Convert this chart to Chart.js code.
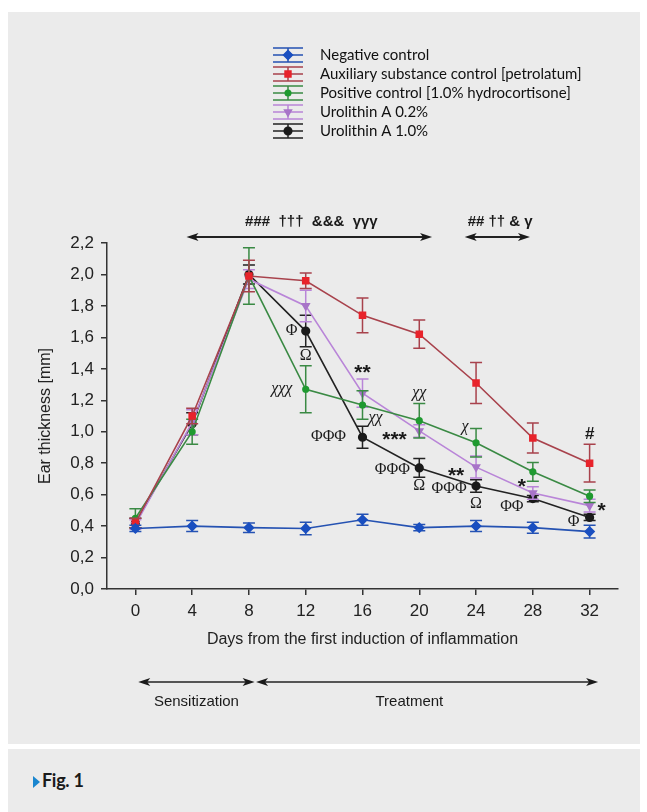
<!DOCTYPE html>
<html>
<head>
<meta charset="utf-8">
<script src="https://cdn.jsdelivr.net/npm/chart.js@4.4.0/dist/chart.umd.min.js"></script>
<style>
html, body { margin: 0; padding: 0; background: #fff; }
body { width: 647px; height: 812px; position: relative; overflow: hidden; }
#panel { position: absolute; left: 8px; top: 12px; width: 632px; height: 732px; background: #ebebeb; }
#caption { position: absolute; left: 8px; top: 749px; width: 632px; height: 63px; background: #ebebeb; }
#caption .tri { position: absolute; left: 25px; top: 27px; width: 0; height: 0;
  border-top: 6px solid transparent; border-bottom: 6px solid transparent; border-left: 7px solid #1a86cf; }
#caption .lab { position: absolute; left: 34px; top: 20px; font: bold 18px Lato, sans-serif; color: #1a1a1a; letter-spacing: -0.3px; }
#c { position: absolute; left: 0; top: 0; }
</style>
</head>
<body>
<div id="panel"></div>
<div id="caption"><span class="tri"></span><span class="lab">Fig. 1</span></div>
<canvas id="c" width="647" height="812"></canvas>
<script>
// days of measurement
var days = [0, 4, 8, 12, 16, 20, 24, 28, 32];
var xTicks = [0, 4, 8, 12, 16, 20, 24, 28, 32];
var yTicks = [0, 0.2, 0.4, 0.6, 0.8, 1.0, 1.2, 1.4, 1.6, 1.8, 2.0, 2.2];

var seriesNames = [
    'Negative control',
    'Auxiliary substance control [petrolatum]',
    'Positive control [1.0% hydrocortisone]',
    'Urolithin A 0.2%',
    'Urolithin A 1.0%'
];

// ear thickness [mm], mean and error
var negMean  = [0.385, 0.40, 0.39, 0.385, 0.44, 0.39, 0.40, 0.39, 0.365];
var negErr   = [0.02, 0.035, 0.03, 0.04, 0.035, 0.02, 0.035, 0.035, 0.04];
var petMean  = [0.42, 1.10, 1.99, 1.96, 1.74, 1.62, 1.31, 0.96, 0.80];
var petErr   = [0.03, 0.05, 0.10, 0.05, 0.11, 0.09, 0.13, 0.095, 0.12];
var hcMean   = [0.45, 1.00, 1.99, 1.27, 1.17, 1.07, 0.93, 0.745, 0.59];
var hcErr    = [0.06, 0.08, 0.18, 0.15, 0.09, 0.11, 0.09, 0.06, 0.04];
var ua02Mean = [0.41, 1.06, 1.97, 1.80, 1.245, 1.005, 0.775, 0.61, 0.53];
var ua02Err  = [0.03, 0.08, 0.06, 0.10, 0.09, 0.04, 0.07, 0.04, 0.04];
var ua10Mean = [0.42, 1.05, 2.00, 1.64, 0.965, 0.77, 0.655, 0.575, 0.455];
var ua10Err  = [0.03, 0.07, 0.06, 0.10, 0.07, 0.06, 0.04, 0.02, 0.02];

var means = [negMean, petMean, hcMean, ua02Mean, ua10Mean];
var errs = [negErr, petErr, hcErr, ua02Err, ua10Err];

var lineColors = ['#2552b2', '#a8424c', '#3a8a44', '#b985d8', '#222222'];
var markColors = ['#1a4fc0', '#e8232b', '#1f9a30', '#a874c8', '#1a1a1a'];
var markStyles = ['rectRot', 'rect', 'circle', 'triangle', 'circle'];
var markSizes = [4.5, 4.2, 2.8, 4, 3.8];
var markRot = [0, 0, 0, 180, 0];

// significance marks: series index, point index, text, offset
var sigLabels = [
    { s: 4, i: 3, t: 'Φ', dx: -14, dy: 0 },
    { s: 4, i: 3, t: 'Ω', dx: 0, dy: 25 },
    { s: 2, i: 3, t: 'χχχ', dx: -24, dy: 0, it: true },
    { s: 3, i: 4, t: '**', dx: 0, dy: -26, star: true },
    { s: 2, i: 4, t: 'χχ', dx: 13, dy: 13, it: true },
    { s: 4, i: 4, t: 'ΦΦΦ', dx: -34, dy: 0 },
    { s: 4, i: 4, t: '***', dx: 32, dy: -3, star: true },
    { s: 2, i: 5, t: 'χχ', dx: 0, dy: -28, it: true },
    { s: 2, i: 6, t: 'χ', dx: -11, dy: -16, it: true },
    { s: 4, i: 5, t: 'ΦΦΦ', dx: -27, dy: 2 },
    { s: 4, i: 5, t: 'Ω', dx: 0, dy: 18 },
    { s: 3, i: 6, t: '**', dx: -20, dy: 3, star: true },
    { s: 4, i: 6, t: 'ΦΦΦ', dx: -27, dy: 3 },
    { s: 4, i: 6, t: 'Ω', dx: 0, dy: 18 },
    { s: 3, i: 7, t: '*', dx: -11, dy: -12, star: true },
    { s: 4, i: 7, t: 'ΦΦ', dx: -21, dy: 8 },
    { s: 1, i: 8, t: '#', dx: 0, dy: -29 },
    { s: 3, i: 8, t: '*', dx: 12, dy: 0, star: true },
    { s: 4, i: 8, t: 'Φ', dx: -16, dy: 4 }
];

var datasets = [];
for (var k = 0; k < means.length; k++) {
    datasets.push({
        label: seriesNames[k],
        data: days.map(function (d, i) { return { x: d, y: means[k][i] }; }),
        borderColor: lineColors[k],
        borderWidth: 1.6,
        backgroundColor: markColors[k],
        pointBackgroundColor: markColors[k],
        pointBorderColor: markColors[k],
        pointStyle: markStyles[k],
        pointRadius: markSizes[k],
        pointRotation: markRot[k],
        tension: 0,
        fill: false
    });
}

function arrow(c, x1, x2, y) {
    c.beginPath();
    c.moveTo(x1 + 6, y); c.lineTo(x2 - 6, y);
    c.stroke();
    c.beginPath();
    c.moveTo(x1, y); c.lineTo(x1 + 12, y - 4); c.lineTo(x1 + 9, y); c.lineTo(x1 + 12, y + 4);
    c.closePath(); c.fill();
    c.beginPath();
    c.moveTo(x2, y); c.lineTo(x2 - 12, y - 4); c.lineTo(x2 - 9, y); c.lineTo(x2 - 12, y + 4);
    c.closePath(); c.fill();
}

var errorBars = {
    id: 'errorBars',
    beforeDatasetDraw: function (chart, args) {
        var k = args.index;
        var ys = chart.scales.y;
        var c = chart.ctx;
        c.save();
        c.strokeStyle = lineColors[k];
        c.lineWidth = 1.5;
        args.meta.data.forEach(function (pt, i) {
            var top = ys.getPixelForValue(means[k][i] + errs[k][i]);
            var bot = ys.getPixelForValue(means[k][i] - errs[k][i]);
            c.beginPath();
            c.moveTo(pt.x, top); c.lineTo(pt.x, bot);
            c.moveTo(pt.x - 6, top); c.lineTo(pt.x + 6, top);
            c.moveTo(pt.x - 6, bot); c.lineTo(pt.x + 6, bot);
            c.stroke();
        });
        c.restore();
    }
};

var extras = {
    id: 'extras',
    afterDraw: function (chart) {
        var c = chart.ctx;
        var xs = chart.scales.x;
        var area = chart.chartArea;
        c.save();

        // significance marks
        c.fillStyle = '#1a1a1a';
        c.textAlign = 'center';
        c.textBaseline = 'middle';
        sigLabels.forEach(function (l) {
            var pt = chart.getDatasetMeta(l.s).data[l.i];
            var y = pt.y + l.dy;
            if (l.star) { c.font = 'bold 21px "Liberation Sans"'; y += 6; }
            else if (l.it) { c.font = 'italic 16px "Liberation Serif"'; }
            else if (l.t === '#') { c.font = 'bold 17px "Liberation Sans"'; }
            else { c.font = '16px "Liberation Serif"'; }
            c.fillText(l.t, pt.x + l.dx, y);
        });

        // period arrows above the plot
        c.strokeStyle = '#222';
        c.fillStyle = '#1a1a1a';
        c.lineWidth = 1.8;
        var ya = area.top - 6;
        arrow(c, xs.getPixelForValue(3.6), xs.getPixelForValue(20.9), ya);
        arrow(c, xs.getPixelForValue(23.2), xs.getPixelForValue(27.8), ya);
        c.font = 'bold 15px "Liberation Sans"';
        c.fillText('###  †††  &&&  γγγ', xs.getPixelForValue(12.4), ya - 15);
        c.fillText('## †† & γ', xs.getPixelForValue(25.7), ya - 15);

        // phase arrows below the axis
        var yb = 682;
        c.lineWidth = 1.6;
        arrow(c, xs.getPixelForValue(0.2), xs.getPixelForValue(8.4), yb);
        arrow(c, xs.getPixelForValue(8.5), xs.getPixelForValue(32.6), yb);
        c.font = '15px "Liberation Sans"';
        c.fillText('Sensitization', xs.getPixelForValue(4.3), yb + 20);
        c.fillText('Treatment', xs.getPixelForValue(19.3), yb + 20);

        // legend
        var lx = 288, ly = 55, step = 19;
        c.textAlign = 'left';
        c.font = '15px Lato';
        seriesNames.forEach(function (name, k) {
            var y = ly + k * step;
            c.strokeStyle = lineColors[k];
            c.lineWidth = 1.5;
            c.beginPath();
            c.moveTo(lx - 15, y - 7); c.lineTo(lx + 15, y - 7);
            c.moveTo(lx - 15, y); c.lineTo(lx + 15, y);
            c.moveTo(lx - 15, y + 7); c.lineTo(lx + 15, y + 7);
            c.moveTo(lx, y - 7); c.lineTo(lx, y + 7);
            c.stroke();
            c.fillStyle = markColors[k];
            c.strokeStyle = markColors[k];
            Chart.helpers.drawPoint(c, {
                pointStyle: markStyles[k], radius: markSizes[k], rotation: markRot[k], borderWidth: 1
            }, lx, y);
            c.fillStyle = '#111';
            c.fillText(name, 320, y);
        });
        c.restore();
    }
};

var axisFont = { family: '"Liberation Sans", Arial, sans-serif', size: 17 };
var ctx = document.getElementById('c').getContext('2d');
var chart = new Chart(ctx, {
    type: 'line',
    data: { datasets: datasets },
    options: {
        responsive: false,
        animation: false,
        layout: { padding: { left: 0, right: 29, top: 243, bottom: 161 } },
        plugins: { legend: { display: false }, tooltip: { enabled: false } },
        scales: {
            x: {
                type: 'linear',
                min: -2,
                max: 34,
                afterBuildTicks: function (s) { s.ticks = xTicks.map(function (v) { return { value: v }; }); },
                afterFit: function (s) { s.height = 62; },
                grid: { drawOnChartArea: false, tickLength: 6, color: '#333', lineWidth: 1.5 },
                border: { color: '#333', width: 1.5 },
                ticks: { padding: 6, color: '#222', font: axisFont },
                title: {
                    display: true,
                    text: 'Days from the first induction of inflammation',
                    color: '#222',
                    font: { family: '"Liberation Sans", Arial, sans-serif', size: 16 },
                    padding: { top: 0, bottom: 2 }
                }
            },
            y: {
                min: 0,
                max: 2.2,
                afterBuildTicks: function (s) { s.ticks = yTicks.map(function (v) { return { value: v }; }); },
                afterFit: function (s) { s.width = 107; },
                grid: { drawOnChartArea: false, tickLength: 6, color: '#333', lineWidth: 1.5 },
                border: { color: '#333', width: 1.5 },
                ticks: {
                    padding: 7, color: '#222', font: axisFont,
                    callback: function (v) { return v.toFixed(1).replace('.', ','); }
                },
                title: {
                    display: true,
                    text: 'Ear thickness [mm]',
                    color: '#222',
                    font: { family: '"Liberation Sans", Arial, sans-serif', size: 16 },
                    padding: { top: 36, bottom: 0 }
                }
            }
        }
    },
    plugins: [errorBars, extras]
});
</script>
</body>
</html>
